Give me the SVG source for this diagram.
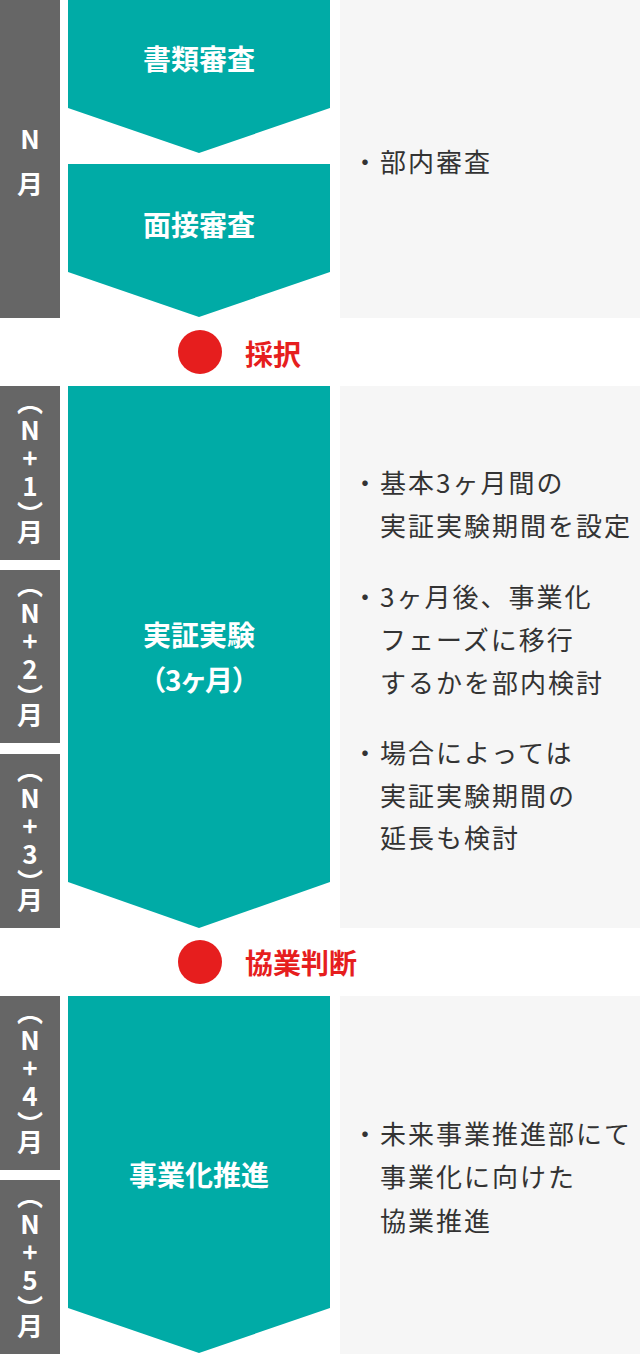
<svg xmlns="http://www.w3.org/2000/svg" width="640" height="1354" viewBox="0 0 640 1354">
<style>
.bar{fill:#666666}
.step{fill:#00aba6}
.panel{fill:#f6f6f6}
.dot{fill:#e61e1e}
.lbl{font-family:"Noto Sans CJK JP","Noto Sans",sans-serif;font-size:28px;font-weight:700;fill:#ffffff;text-anchor:middle;font-feature-settings:"palt"}
.mon{font-family:"Noto Sans CJK JP","Noto Sans",sans-serif;font-size:26px;font-weight:700;fill:#ffffff;text-anchor:middle}
.vmon{font-family:"Noto Sans CJK JP","Noto Sans",sans-serif;font-size:26px;font-weight:700;fill:#ffffff;text-anchor:middle;writing-mode:vertical-rl;text-orientation:upright;letter-spacing:2px}
.cl{letter-spacing:-8px}
.red{font-family:"Noto Sans CJK JP","Noto Sans",sans-serif;font-size:28px;font-weight:700;fill:#e61e1e}
.note{font-family:"Noto Sans CJK JP","Noto Sans",sans-serif;font-size:26px;fill:#333333;letter-spacing:2px}
</style>
<rect width="640" height="1354" fill="#ffffff"/>

<g id="month-N">
<rect class="bar" x="0" y="0" width="60" height="318"/>
<text class="mon" x="30"><tspan x="30" y="149">N</tspan><tspan x="30" y="194">月</tspan></text>
</g>
<g id="month-N1">
<rect class="bar" x="0" y="386" width="60" height="174"/>
<text class="vmon" x="30" y="468">（N+1<tspan class="cl">）</tspan>月</text>
</g>
<g id="month-N2">
<rect class="bar" x="0" y="570" width="60" height="173"/>
<text class="vmon" x="30" y="651.5">（N+2<tspan class="cl">）</tspan>月</text>
</g>
<g id="month-N3">
<rect class="bar" x="0" y="754" width="60" height="174"/>
<text class="vmon" x="30" y="836">（N+3<tspan class="cl">）</tspan>月</text>
</g>
<g id="month-N4">
<rect class="bar" x="0" y="996" width="60" height="174"/>
<text class="vmon" x="30" y="1078">（N+4<tspan class="cl">）</tspan>月</text>
</g>
<g id="month-N5">
<rect class="bar" x="0" y="1180" width="60" height="174"/>
<text class="vmon" x="30" y="1262">（N+5<tspan class="cl">）</tspan>月</text>
</g>

<g id="step-document">
<polygon class="step" points="68,0 330,0 330,108 199,153 68,108"/>
<text class="lbl" x="199" y="70">書類審査</text>
</g>
<g id="step-interview">
<polygon class="step" points="68,164 330,164 330,272 199,317 68,272"/>
<text class="lbl" x="199" y="235.5">面接審査</text>
</g>
<g id="step-poc">
<polygon class="step" points="68,386 330,386 330,882 199,928 68,882"/>
<text class="lbl" x="199"><tspan x="199" y="646">実証実験</tspan><tspan x="199" y="691">（3ヶ月）</tspan></text>
</g>
<g id="step-business">
<polygon class="step" points="68,996 330,996 330,1308 199,1353 68,1308"/>
<text class="lbl" x="199" y="1185.5">事業化推進</text>
</g>

<g id="milestone-adopt">
<circle class="dot" cx="200" cy="352" r="22"/>
<text class="red" x="245" y="365">採択</text>
</g>
<g id="milestone-decision">
<circle class="dot" cx="200" cy="962" r="22"/>
<text class="red" x="245" y="974">協業判断</text>
</g>

<g id="panel-1">
<rect class="panel" x="340" y="0" width="300" height="318"/>
<text class="note" x="352" y="172">・部内審査</text>
</g>
<g id="panel-2">
<rect class="panel" x="340" y="386" width="300" height="542"/>
<text class="note"><tspan x="352" y="493">・基本3ヶ月間の</tspan><tspan x="380" y="536">実証実験期間を設定</tspan></text>
<text class="note"><tspan x="352" y="607">・3ヶ月後、事業化</tspan><tspan x="380" y="650">フェーズに移行</tspan><tspan x="380" y="693">するかを部内検討</tspan></text>
<text class="note"><tspan x="352" y="763">・場合によっては</tspan><tspan x="380" y="806">実証実験期間の</tspan><tspan x="380" y="848">延長も検討</tspan></text>
</g>
<g id="panel-3">
<rect class="panel" x="340" y="996" width="300" height="358"/>
<text class="note"><tspan x="352" y="1144">・未来事業推進部にて</tspan><tspan x="380" y="1187">事業化に向けた</tspan><tspan x="380" y="1231">協業推進</tspan></text>
</g>

<g id="connectors"></g>
</svg>
